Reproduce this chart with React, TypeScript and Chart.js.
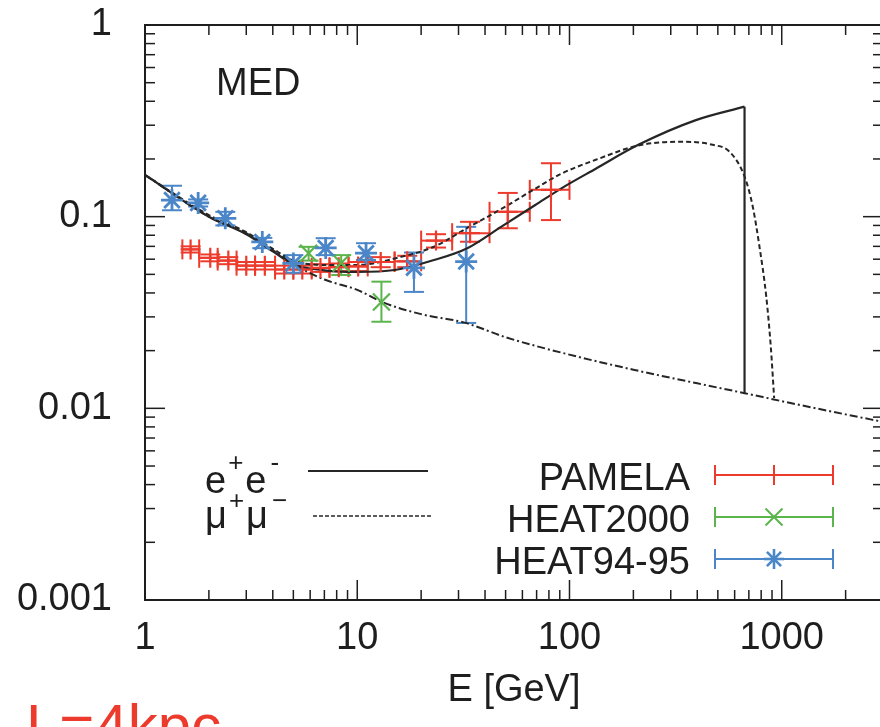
import React, { useEffect, useRef } from 'react';
import { Chart, registerables } from 'chart.js';

Chart.register(...registerables);

// ---- model curves (E in GeV, positron fraction) ----
const bgE = [1, 2, 3, 4, 5, 7, 10, 13.4, 20, 32, 50, 92, 200, 400, 668, 1000, 2000, 3000];
const bgY = [0.165, 0.1, 0.082, 0.067, 0.0565, 0.047, 0.0415, 0.0355, 0.031, 0.028, 0.0235, 0.0195, 0.0159, 0.0135, 0.012, 0.0109, 0.0093, 0.0085];

const eeE = [1, 2, 3, 4, 5, 7, 10, 15, 23, 33, 48, 69, 92, 133, 211, 394, 668];
const eeY = [0.165, 0.1, 0.081, 0.066, 0.0565, 0.0525, 0.0515, 0.0527, 0.0594, 0.0685, 0.089, 0.115, 0.141, 0.178, 0.237, 0.319, 0.375];
const eeDropEnd = 0.012;

const mumuE = [1, 2, 3, 4, 5, 7, 10, 16, 23, 33, 48, 69, 92, 133, 211, 330, 473, 568, 668, 730, 785, 845, 888, 921];
const mumuY = [0.165, 0.102, 0.083, 0.068, 0.059, 0.056, 0.056, 0.0616, 0.0697, 0.0873, 0.11, 0.14, 0.168, 0.198, 0.235, 0.246, 0.237, 0.218, 0.162, 0.113, 0.07, 0.0385, 0.021, 0.0113];

// ---- PAMELA ----
const pamE = [1.64, 2.03, 2.47, 3.0, 3.67, 4.53, 5.51, 6.71, 8.18, 10.1, 12.9, 17.2, 23.5, 34, 51.2, 81.8];
const pamELo = [1.5, 1.8, 2.2, 2.7, 3.3, 4.1, 5.0, 6.1, 7.4, 9.1, 11.2, 15, 20, 28, 42, 65];
const pamEHi = [1.8, 2.2, 2.7, 3.3, 4.1, 5.0, 6.1, 7.4, 9.1, 11.2, 15, 20, 28, 42, 65, 100];
const pamY = [0.0675, 0.061, 0.059, 0.0555, 0.0555, 0.053, 0.053, 0.054, 0.0545, 0.055, 0.058, 0.0585, 0.075, 0.082, 0.106, 0.138];
const pamYLo = [0.065, 0.0585, 0.0565, 0.053, 0.053, 0.0505, 0.0505, 0.0515, 0.052, 0.052, 0.0545, 0.0545, 0.069, 0.074, 0.087, 0.096];
const pamYHi = [0.07, 0.0635, 0.0615, 0.058, 0.058, 0.0555, 0.0555, 0.0565, 0.057, 0.058, 0.0615, 0.0625, 0.081, 0.094, 0.133, 0.19];

// ---- HEAT2000 ----
const h00E = [5.9, 8.4, 13.0];
const h00Y = [0.0645, 0.0573, 0.0359];
const h00YLo = [0.059, 0.0496, 0.0283];
const h00YHi = [0.0696, 0.063, 0.0458];

// ---- HEAT94-95 ----
const h95E = [1.34, 1.78, 2.39, 3.57, 5.0, 7.1, 11.0, 18.5, 32.6];
const h95Y = [0.122, 0.118, 0.098, 0.0738, 0.057, 0.0687, 0.0645, 0.0541, 0.0583];
const h95YLo = [0.108, 0.113, 0.09, 0.0685, 0.051, 0.063, 0.0594, 0.0405, 0.0279];
const h95YHi = [0.145, 0.123, 0.106, 0.0775, 0.063, 0.0772, 0.0727, 0.065, 0.0885];

// ---- axes ----
const xTickValues = [1, 10, 100, 1000];
const xTickLabels = ['1', '10', '100', '1000'];
const yTickValues = [0.001, 0.01, 0.1, 1];
const yTickLabels = ['0.001', '0.01', '0.1', '1'];
const xTitle = 'E [GeV]';
const dataLegend = ['PAMELA', 'HEAT2000', 'HEAT94-95'];
const panelLabel = 'MED';
const sideLabel = 'L=4kpc';

const FONT = '"Liberation Sans", Arial, Helvetica, sans-serif';
const INK = '#1e1e1e';
const CURVE = '#262626';
const RED = '#ec3b2c';
const GREEN = '#5bb44c';
const BLUE = '#4a86c8';

const pts = (xs: number[], ys: number[]) => xs.map((x, i) => ({ x, y: ys[i] }));

const findLabel = (v: number, vals: number[], labels: string[]) => {
  const i = vals.findIndex((t) => Math.abs(t - v) / t < 1e-6);
  return i >= 0 ? labels[i] : '';
};

function seg(ctx: CanvasRenderingContext2D, x1: number, y1: number, x2: number, y2: number) {
  ctx.beginPath();
  ctx.moveTo(x1, y1);
  ctx.lineTo(x2, y2);
  ctx.stroke();
}

function marker(ctx: CanvasRenderingContext2D, style: string, x: number, y: number, r: number) {
  const d = r * Math.SQRT1_2;
  if (style === 'cross' || style === 'star') {
    seg(ctx, x - r, y, x + r, y);
    seg(ctx, x, y - r, x, y + r);
  }
  if (style === 'crossRot' || style === 'star') {
    seg(ctx, x - d, y - d, x + d, y + d);
    seg(ctx, x - d, y + d, x + d, y - d);
  }
}

const CAP = 10;

const errorSets = [
  { color: RED, e: pamE, y: pamY, xlo: pamELo, xhi: pamEHi, ylo: pamYLo, yhi: pamYHi },
  { color: GREEN, e: h00E, y: h00Y, xlo: null, xhi: null, ylo: h00YLo, yhi: h00YHi },
  { color: BLUE, e: h95E, y: h95Y, xlo: null, xhi: null, ylo: h95YLo, yhi: h95YHi },
];

const zeroPad = (s: any) => {
  s.paddingTop = 0;
  s.paddingBottom = 0;
  s.paddingLeft = 0;
  s.paddingRight = 0;
};

const decorPlugin = {
  id: 'decor',
  beforeDraw(chart: any) {
    const { ctx } = chart;
    ctx.save();
    ctx.fillStyle = '#ffffff';
    ctx.fillRect(0, 0, chart.width, chart.height);
    ctx.restore();
  },
  beforeDatasetsDraw(chart: any) {
    const { ctx, scales } = chart;
    const xs = scales.x;
    const ys = scales.y;
    ctx.save();
    ctx.lineWidth = 2;
    errorSets.forEach((s) => {
      ctx.strokeStyle = s.color;
      s.e.forEach((e, i) => {
        const px = xs.getPixelForValue(e);
        const py = ys.getPixelForValue(s.y[i]);
        if (s.xlo && s.xhi) {
          const x1 = xs.getPixelForValue(s.xlo[i]);
          const x2 = xs.getPixelForValue(s.xhi[i]);
          seg(ctx, x1, py, x2, py);
          seg(ctx, x1, py - CAP, x1, py + CAP);
          seg(ctx, x2, py - CAP, x2, py + CAP);
        }
        const y1 = ys.getPixelForValue(s.ylo[i]);
        const y2 = ys.getPixelForValue(s.yhi[i]);
        seg(ctx, px, y1, px, y2);
        seg(ctx, px - CAP, y1, px + CAP, y1);
        seg(ctx, px - CAP, y2, px + CAP, y2);
      });
    });
    ctx.restore();
  },
  afterDatasetsDraw(chart: any) {
    const { ctx, chartArea: ca, scales } = chart;
    const xs = scales.x;
    const ys = scales.y;
    ctx.save();
    // frame
    ctx.strokeStyle = INK;
    ctx.lineWidth = 2;
    ctx.strokeRect(ca.left, ca.top, ca.right - ca.left, ca.bottom - ca.top);
    // inward ticks
    ctx.lineWidth = 1.5;
    const tickVals = (min: number, max: number) => {
      const out: { v: number; major: boolean }[] = [];
      for (let e = Math.floor(Math.log10(min)); e <= Math.ceil(Math.log10(max)); e++) {
        for (let m = 1; m <= 9; m++) {
          const v = m * Math.pow(10, e);
          if (v >= min * 0.9999 && v <= max * 1.0001) out.push({ v, major: m === 1 });
        }
      }
      return out;
    };
    tickVals(xs.min, xs.max).forEach(({ v, major }) => {
      const p = xs.getPixelForValue(v);
      const L = major ? 20 : 10;
      seg(ctx, p, ca.bottom, p, ca.bottom - L);
      seg(ctx, p, ca.top, p, ca.top + L);
    });
    tickVals(ys.min, ys.max).forEach(({ v, major }) => {
      const p = ys.getPixelForValue(v);
      const L = major ? 20 : 10;
      seg(ctx, ca.left, p, ca.left + L, p);
      seg(ctx, ca.right, p, ca.right - L, p);
    });

    // panel label
    ctx.fillStyle = INK;
    ctx.textBaseline = 'alphabetic';
    ctx.textAlign = 'left';
    ctx.font = `38px ${FONT}`;
    ctx.fillText(panelLabel, 216, 95);

    // model legend (left)
    const big = `38px ${FONT}`;
    const small = `26px ${FONT}`;
    const row = (base: string, supA: string, supB: string, y: number, supY: number) => {
      let cx = 205;
      ctx.font = big;
      ctx.fillText(base, cx, y);
      cx += ctx.measureText(base).width + 2;
      ctx.font = small;
      ctx.fillText(supA, cx, supY);
      cx += ctx.measureText(supA).width + 2;
      ctx.font = big;
      ctx.fillText(base, cx, y);
      cx += ctx.measureText(base).width + 4;
      ctx.font = small;
      ctx.fillText(supB, cx, supY);
    };
    row('e', '+', '-', 493, 471);
    row('\u03bc', '+', '\u2212', 528, 509);
    ctx.strokeStyle = CURVE;
    ctx.lineWidth = 2;
    seg(ctx, 308, 471, 428, 471);
    ctx.lineWidth = 1.6;
    ctx.setLineDash([4, 2]);
    seg(ctx, 313, 516, 432, 516);
    ctx.setLineDash([]);

    // data legend (right)
    const colors = [RED, GREEN, BLUE];
    const styles = ['cross', 'crossRot', 'star'];
    const radii = [10, 12, 10];
    dataLegend.forEach((t, i) => {
      const ly = 475 + i * 42;
      ctx.fillStyle = INK;
      ctx.font = big;
      ctx.textAlign = 'right';
      ctx.fillText(t, 690, ly + 15);
      ctx.strokeStyle = colors[i];
      ctx.lineWidth = 2;
      seg(ctx, 715, ly, 833, ly);
      seg(ctx, 715, ly - CAP, 715, ly + CAP);
      seg(ctx, 833, ly - CAP, 833, ly + CAP);
      ctx.lineWidth = i === 2 ? 2.6 : 2;
      marker(ctx, styles[i], 774, ly, radii[i]);
    });

    // side label (partly below the page edge)
    ctx.textAlign = 'left';
    ctx.fillStyle = RED;
    ctx.font = `60px ${FONT}`;
    ctx.fillText(sideLabel, 26, 746);
    ctx.restore();
  },
};

export default function App() {
  const ref = useRef<HTMLCanvasElement>(null);
  useEffect(() => {
    const canvas = ref.current;
    if (!canvas) return;
    const chart = new Chart(canvas, {
      type: 'scatter',
      data: {
        datasets: [
          {
            label: 'HEAT94-95',
            data: pts(h95E, h95Y),
            pointStyle: 'star',
            pointRadius: 11,
            pointBorderColor: BLUE,
            pointBackgroundColor: BLUE,
            pointBorderWidth: 2.8,
            showLine: false,
          },
          {
            label: 'HEAT2000',
            data: pts(h00E, h00Y),
            pointStyle: 'crossRot',
            pointRadius: 12,
            pointBorderColor: GREEN,
            pointBorderWidth: 2.2,
            showLine: false,
          },
          {
            label: 'PAMELA',
            data: pts(pamE, pamY),
            pointStyle: 'cross',
            pointRadius: 10,
            pointBorderColor: RED,
            pointBorderWidth: 2.2,
            showLine: false,
          },
          {
            label: 'e+e-',
            data: pts(eeE, eeY),
            showLine: true,
            pointRadius: 0,
            borderColor: CURVE,
            borderWidth: 2.2,
            cubicInterpolationMode: 'monotone',
          },
          {
            label: 'e+e- cutoff',
            data: [
              { x: eeE[eeE.length - 1], y: eeY[eeY.length - 1] },
              { x: eeE[eeE.length - 1], y: eeDropEnd },
            ],
            showLine: true,
            pointRadius: 0,
            borderColor: CURVE,
            borderWidth: 2.2,
          },
          {
            label: 'mu+mu-',
            data: pts(mumuE, mumuY),
            showLine: true,
            pointRadius: 0,
            borderColor: CURVE,
            borderWidth: 2,
            borderDash: [5, 3],
            cubicInterpolationMode: 'monotone',
          },
          {
            label: 'background',
            data: pts(bgE, bgY),
            showLine: true,
            pointRadius: 0,
            borderColor: CURVE,
            borderWidth: 2,
            borderDash: [8, 3, 2, 3],
            cubicInterpolationMode: 'monotone',
          },
        ],
      } as any,
      options: {
        animation: false,
        responsive: false,
        devicePixelRatio: 1,
        events: [],
        layout: { autoPadding: false, padding: { top: 25, right: 0, left: 0, bottom: 0 } },
        plugins: { legend: { display: false }, tooltip: { enabled: false } },
        scales: {
          x: {
            type: 'logarithmic',
            min: 1,
            max: 3000,
            grid: { display: false, drawTicks: false },
            border: { display: false },
            ticks: {
              autoSkip: false,
              maxRotation: 0,
              minRotation: 0,
              padding: 16,
              color: INK,
              font: { family: FONT, size: 38 },
              callback: (v: any) => findLabel(Number(v), xTickValues, xTickLabels),
            },
            title: {
              display: true,
              text: xTitle,
              color: INK,
              font: { family: FONT, size: 38 },
              padding: { top: 0, bottom: 14 },
            },
            afterFit: (s: any) => {
              s.height = 127;
              zeroPad(s);
            },
          },
          y: {
            type: 'logarithmic',
            min: 0.001,
            max: 1,
            grid: { display: false, drawTicks: false },
            border: { display: false },
            ticks: {
              autoSkip: false,
              padding: 33,
              color: INK,
              font: { family: FONT, size: 38 },
              callback: (v: any) => findLabel(Number(v), yTickValues, yTickLabels),
            },
            afterFit: (s: any) => {
              s.width = 145;
              zeroPad(s);
            },
          },
        },
      } as any,
      plugins: [decorPlugin],
    });
    return () => chart.destroy();
  }, []);
  return (
    <div
      style={{
        position: 'fixed',
        left: 0,
        top: 0,
        width: 880,
        height: 727,
        overflow: 'hidden',
        background: '#ffffff',
      }}
    >
      <canvas ref={ref} width={883} height={727} style={{ display: 'block', width: 883, height: 727 }} />
    </div>
  );
}
